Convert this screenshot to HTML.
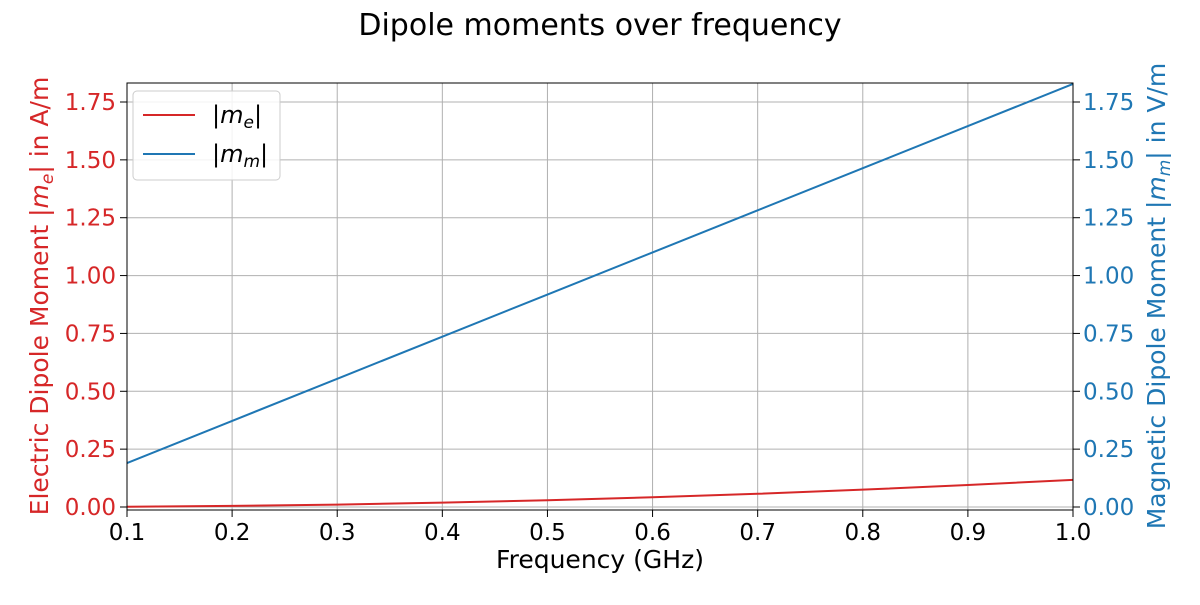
<!DOCTYPE html>
<html><head><meta charset="utf-8"><style>
body{margin:0;background:#fff;}
svg text{font-family:"DejaVu Sans","Liberation Sans",sans-serif;}
</style></head><body>
<svg id="chart" width="1200" height="600" xmlns="http://www.w3.org/2000/svg">
<text x="600" y="35" font-size="30" text-anchor="middle">Dipole moments over frequency</text>
<g id="grid"></g>
<g id="marks"></g>
<rect x="127" y="83" width="946" height="427" fill="none" stroke="#000" stroke-width="1"/>
<g id="ticks"></g>
<text x="600" y="568" font-size="25" text-anchor="middle">Frequency (GHz)</text>
<text transform="translate(48,296) rotate(-90)" font-size="25" text-anchor="middle" fill="#d62728">Electric Dipole Moment |<tspan font-style="italic">m</tspan><tspan font-style="italic" font-size="17" dy="5">e</tspan><tspan dy="-5">| in A/m</tspan></text>
<text transform="translate(1165,296) rotate(-90)" font-size="25" text-anchor="middle" fill="#1f77b4">Magnetic Dipole Moment |<tspan font-style="italic">m</tspan><tspan font-style="italic" font-size="17" dy="5">m</tspan><tspan dy="-5">| in V/m</tspan></text>
<g>
<rect x="133" y="91" width="147" height="89" rx="4" fill="#fff" fill-opacity="0.85" stroke="#ccc"/>
<line x1="143" y1="115" x2="195" y2="115" stroke="#d62728" stroke-width="2"/>
<text x="212" y="123" font-size="24">|<tspan font-style="italic">m</tspan><tspan font-style="italic" font-size="17" dy="5">e</tspan><tspan dy="-5">|</tspan></text>
<line x1="143" y1="154" x2="195" y2="154" stroke="#1f77b4" stroke-width="2"/>
<text x="212" y="162" font-size="24">|<tspan font-style="italic">m</tspan><tspan font-style="italic" font-size="17" dy="5">m</tspan><tspan dy="-5">|</tspan></text>
</g>
</svg>
<script>
const freqs=[0.1,0.2,0.3,0.4,0.5,0.6,0.7,0.8,0.9,1.0];
const electric=[0.0012,0.0047,0.0105,0.0187,0.029,0.042,0.057,0.075,0.095,0.117];
const magnetic=[0.19,0.372,0.554,0.736,0.918,1.1,1.282,1.464,1.646,1.828];
const xTicks=[0.1,0.2,0.3,0.4,0.5,0.6,0.7,0.8,0.9,1.0];
const yTicks=[0,0.25,0.5,0.75,1.0,1.25,1.5,1.75];
const NS="http://www.w3.org/2000/svg";
const X=v=>127+(v-0.1)/0.9*946;
const Y=v=>507-v*231.43;
const grid=document.getElementById('grid'),ticks=document.getElementById('ticks'),marks=document.getElementById('marks');
function mk(t,a,p){const e=document.createElementNS(NS,t);for(const k in a)e.setAttribute(k,a[k]);p.appendChild(e);return e;}
xTicks.forEach(v=>{
 const g=mk('line',{x1:X(v),x2:X(v),y1:83,y2:510,stroke:'#b0b0b0','stroke-width':1},grid);
 
 
 mk('line',{x1:X(v),x2:X(v),y1:510,y2:517,stroke:'#000'},ticks);
 const t=mk('text',{x:X(v),y:540,'font-size':23,'text-anchor':'middle'},ticks);
 t.textContent=v.toFixed(1);
 
 
});
yTicks.forEach(v=>{
 const g=mk('line',{x1:127,x2:1073,y1:Y(v),y2:Y(v),stroke:'#b0b0b0','stroke-width':1},grid);
 
 
 mk('line',{x1:120,x2:127,y1:Y(v),y2:Y(v),stroke:'#000'},ticks);
 mk('line',{x1:1073,x2:1080,y1:Y(v),y2:Y(v),stroke:'#000'},ticks);
 const t=mk('text',{x:116,y:Y(v)+8,'font-size':23,'text-anchor':'end',fill:'#d62728'},ticks);
 t.textContent=v.toFixed(2);
 
 
 const r=mk('text',{x:1083,y:Y(v)+8,'font-size':23,fill:'#1f77b4'},ticks);
 r.textContent=v.toFixed(2);
 
 
});
function line(vals,col,name){
 const p=mk('polyline',{points:freqs.map((f,i)=>X(f)+','+Y(vals[i])).join(' '),fill:'none',stroke:col,'stroke-width':2},marks);
 
 
}
line(electric,'#d62728','electric-moment-line');
line(magnetic,'#1f77b4','magnetic-moment-line');
</script>
</body></html>
